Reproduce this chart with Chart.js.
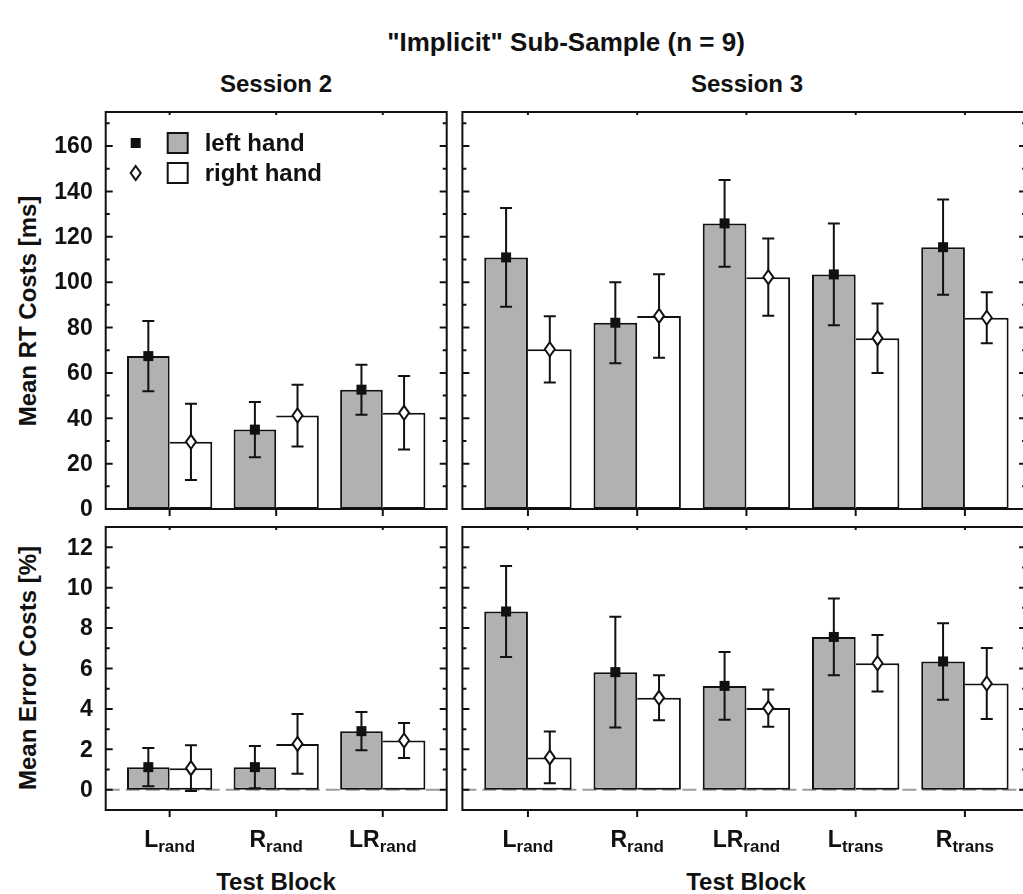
<!DOCTYPE html>
<html>
<head>
<meta charset="utf-8">
<title>Implicit sub-sample costs</title>
<script src="https://cdn.jsdelivr.net/npm/chart.js@4.4.1/dist/chart.umd.min.js"></script>
<style>
  html, body { margin: 0; padding: 0; background: #fff; overflow: hidden; }
  #page {
    position: relative; width: 1023px; height: 894px; overflow: hidden;
    font-family: "Liberation Sans", Arial, sans-serif; font-weight: bold; color: #111;
  }
  #page canvas { position: absolute; left: 0; top: 0; }
  .lbl { position: absolute; white-space: nowrap; transform: translate(-50%, -50%); font-size: 24px; }
  .ytitle { position: absolute; white-space: nowrap; transform: translate(-50%, -50%) rotate(-90deg); font-size: 24px; }
</style>
</head>
<body>
<div id="page">
  <div class="lbl" style="left:566px; top:42px; font-size:26px">"Implicit" Sub-Sample (n = 9)</div>
  <div class="lbl" style="left:276px; top:84px">Session 2</div>
  <div class="lbl" style="left:747px; top:84px">Session 3</div>
  <div class="ytitle" style="left:28px; top:311px">Mean RT Costs [ms]</div>
  <div class="ytitle" style="left:28px; top:668px">Mean Error Costs [%]</div>
  <div class="lbl" style="left:276px; top:882px">Test Block</div>
  <div class="lbl" style="left:746px; top:882px">Test Block</div>

  <canvas id="rtS2" width="1040" height="894"></canvas>
  <canvas id="rtS3" width="1040" height="894"></canvas>
  <canvas id="errS2" width="1040" height="894"></canvas>
  <canvas id="errS3" width="1040" height="894"></canvas>
</div>

<script>
// test blocks, "main_subscript"
const session2Blocks = ['L_rand', 'R_rand', 'LR_rand'];
const session3Blocks = ['L_rand', 'R_rand', 'LR_rand', 'L_trans', 'R_trans'];

const seriesNames = ['left hand', 'right hand'];

// mean RT costs [ms] and error bar half-widths
const rtS2Left = [67.4, 35.0, 52.6];
const rtS2LeftErr = [15.5, 12.2, 11.0];
const rtS2Right = [29.6, 41.2, 42.4];
const rtS2RightErr = [16.8, 13.6, 16.2];

const rtS3Left = [110.9, 82.1, 125.9, 103.4, 115.4];
const rtS3LeftErr = [21.8, 17.8, 19.1, 22.4, 21.0];
const rtS3Right = [70.4, 85.1, 102.2, 75.3, 84.3];
const rtS3RightErr = [14.6, 18.4, 17.0, 15.3, 11.2];

// mean error costs [%]
const errS2Left = [1.12, 1.12, 2.9];
const errS2LeftErr = [0.95, 1.05, 0.95];
const errS2Right = [1.07, 2.27, 2.44];
const errS2RightErr = [1.13, 1.48, 0.87];

const errS3Left = [8.82, 5.82, 5.14, 7.56, 6.35];
const errS3LeftErr = [2.25, 2.74, 1.68, 1.9, 1.89];
const errS3Right = [1.6, 4.55, 4.04, 6.26, 5.26];
const errS3RightErr = [1.28, 1.11, 0.92, 1.4, 1.76];

const rtTicks = [0, 20, 40, 60, 80, 100, 120, 140, 160];
const errTicks = [0, 2, 4, 6, 8, 10, 12];

const GRAY = '#b1b1b1';
const INK = '#111';
const FONT = '"Liberation Sans", Arial, sans-serif';

function drawMarker(ctx, type, x, y) {
  ctx.save();
  if (type === 'square') {
    ctx.fillStyle = INK;
    ctx.fillRect(x - 5, y - 5, 10, 10);
  } else {
    ctx.beginPath();
    ctx.moveTo(x, y - 7);
    ctx.lineTo(x + 5, y);
    ctx.lineTo(x, y + 7);
    ctx.lineTo(x - 5, y);
    ctx.closePath();
    ctx.fillStyle = '#fff';
    ctx.fill();
    ctx.lineWidth = 2;
    ctx.strokeStyle = INK;
    ctx.stroke();
  }
  ctx.restore();
}

const panelDecor = {
  id: 'panelDecor',
  beforeDatasetsDraw(chart, args, o) {
    if (!o.zeroLine) return;
    const { ctx, chartArea: a, scales: { y } } = chart;
    const py = y.getPixelForValue(0);
    ctx.save();
    ctx.strokeStyle = '#9c9c9c';
    ctx.lineWidth = 2;
    ctx.setLineDash([14, 6]);
    ctx.beginPath();
    ctx.moveTo(a.left, py);
    ctx.lineTo(a.right, py);
    ctx.stroke();
    ctx.restore();
  },
  afterDatasetsDraw(chart, args, o) {
    const { ctx, chartArea: a, scales: { x, y } } = chart;
    ctx.save();
    ctx.strokeStyle = INK;
    ctx.lineWidth = 2;

    // error bars + point markers on top of each bar
    chart.data.datasets.forEach((ds, di) => {
      chart.getDatasetMeta(di).data.forEach((bar, i) => {
        const v = ds.data[i].y, e = ds.errors[i];
        const top = y.getPixelForValue(v + e);
        const bot = y.getPixelForValue(v - e);
        ctx.beginPath();
        ctx.moveTo(bar.x, top); ctx.lineTo(bar.x, bot);
        ctx.moveTo(bar.x - 6, top); ctx.lineTo(bar.x + 6, top);
        ctx.moveTo(bar.x - 6, bot); ctx.lineTo(bar.x + 6, bot);
        ctx.stroke();
        drawMarker(ctx, ds.marker, bar.x, bar.y);
      });
    });

    // frame
    ctx.strokeRect(a.left, a.top, a.right - a.left, a.bottom - a.top);

    // y ticks, inward on both sides
    const ticks = o.yTicks;
    const half = (ticks[1] - ticks[0]) / 2;
    ctx.beginPath();
    ticks.forEach(t => {
      const py = y.getPixelForValue(t);
      ctx.moveTo(a.left, py); ctx.lineTo(a.left + 7, py);
      ctx.moveTo(a.right, py); ctx.lineTo(a.right - 7, py);
      const m = t + half;
      if (m < y.max) {
        const pm = y.getPixelForValue(m);
        ctx.moveTo(a.left, pm); ctx.lineTo(a.left + 4, pm);
        ctx.moveTo(a.right, pm); ctx.lineTo(a.right - 4, pm);
      }
    });
    // x ticks: outward at the bottom, short inward at the top
    o.blocks.forEach((b, i) => {
      const px = x.getPixelForValue(i);
      ctx.moveTo(px, a.bottom); ctx.lineTo(px, a.bottom + 7);
      ctx.moveTo(px, a.top); ctx.lineTo(px, a.top + 3);
    });
    ctx.stroke();

    ctx.fillStyle = INK;
    if (o.yLabels) {
      ctx.font = 'bold 23px ' + FONT;
      ctx.textAlign = 'right';
      ctx.textBaseline = 'middle';
      ticks.forEach(t => ctx.fillText(String(t), a.left - 13, y.getPixelForValue(t) + 1));
    }

    if (o.xLabels) {
      ctx.textAlign = 'left';
      ctx.textBaseline = 'alphabetic';
      o.blocks.forEach((b, i) => {
        const [main, sub] = b.split('_');
        ctx.font = 'bold 23px ' + FONT;
        const wm = ctx.measureText(main).width;
        ctx.font = 'bold 17px ' + FONT;
        const ws = ctx.measureText(sub).width;
        const sx = x.getPixelForValue(i) - (wm + ws) / 2;
        const base = a.bottom + 37;
        ctx.font = 'bold 23px ' + FONT;
        ctx.fillText(main, sx, base);
        ctx.font = 'bold 17px ' + FONT;
        ctx.fillText(sub, sx + wm, base + 5);
      });
    }

    if (o.legend) {
      chart.data.datasets.forEach((ds, di) => {
        const cy = a.top + 31 + di * 30;
        drawMarker(ctx, ds.marker, a.left + 30, cy);
        ctx.fillStyle = ds.backgroundColor;
        ctx.fillRect(a.left + 62, cy - 10, 20, 20);
        ctx.lineWidth = 2;
        ctx.strokeStyle = INK;
        ctx.strokeRect(a.left + 62, cy - 10, 20, 20);
        ctx.fillStyle = INK;
        ctx.font = 'bold 24px ' + FONT;
        ctx.textAlign = 'left';
        ctx.textBaseline = 'middle';
        ctx.fillText(ds.label, a.left + 99, cy + 1);
      });
    }
    ctx.restore();
  }
};

function points(values) {
  return values.map((v, i) => ({ x: i, y: v }));
}

function makePanel(id, blocks, left, leftErr, right, rightErr, p) {
  const canvas = document.getElementById(id);
  return new Chart(canvas, {
    type: 'bar',
    data: {
      datasets: [
        {
          label: seriesNames[0], data: points(left), errors: leftErr, marker: 'square',
          backgroundColor: GRAY, borderColor: INK, borderWidth: 2, borderSkipped: false
        },
        {
          label: seriesNames[1], data: points(right), errors: rightErr, marker: 'diamond',
          backgroundColor: '#ffffff', borderColor: INK,
          borderWidth: { top: 2, right: 2, bottom: 2, left: 0 }, borderSkipped: false
        }
      ]
    },
    options: {
      responsive: false,
      animation: false,
      events: [],
      layout: {
        padding: {
          left: p.area[0], top: p.area[1],
          right: canvas.width - p.area[2], bottom: canvas.height - p.area[3]
        }
      },
      datasets: { bar: { categoryPercentage: 0.8, barPercentage: 1.0 } },
      scales: {
        x: {
          type: 'linear', display: false, offset: false,
          min: -0.6, max: p.xMax,
          ticks: { stepSize: 1, includeBounds: false }
        },
        y: { display: false, min: p.yMin, max: p.yMax }
      },
      plugins: {
        legend: { display: false },
        tooltip: { enabled: false },
        panelDecor: {
          blocks: blocks, yTicks: p.yTicks, yLabels: p.yLabels, xLabels: p.xLabels,
          zeroLine: p.zeroLine, legend: p.legend
        }
      }
    },
    plugins: [panelDecor]
  });
}

makePanel('rtS2', session2Blocks, rtS2Left, rtS2LeftErr, rtS2Right, rtS2RightErr, {
  area: [105.7, 112, 446.7, 509], xMax: 2.6, yMin: 0, yMax: 175, yTicks: rtTicks,
  yLabels: true, xLabels: false, zeroLine: false, legend: true
});
makePanel('rtS3', session3Blocks, rtS3Left, rtS3LeftErr, rtS3Right, rtS3RightErr, {
  area: [462.4, 112, 1026.1, 509], xMax: 4.56, yMin: 0, yMax: 175, yTicks: rtTicks,
  yLabels: false, xLabels: false, zeroLine: false, legend: false
});
makePanel('errS2', session2Blocks, errS2Left, errS2LeftErr, errS2Right, errS2RightErr, {
  area: [105.7, 527, 446.7, 810], xMax: 2.6, yMin: -1, yMax: 13, yTicks: errTicks,
  yLabels: true, xLabels: true, zeroLine: true, legend: false
});
makePanel('errS3', session3Blocks, errS3Left, errS3LeftErr, errS3Right, errS3RightErr, {
  area: [462.4, 527, 1026.1, 810], xMax: 4.56, yMin: -1, yMax: 13, yTicks: errTicks,
  yLabels: false, xLabels: true, zeroLine: true, legend: false
});
</script>
</body>
</html>
